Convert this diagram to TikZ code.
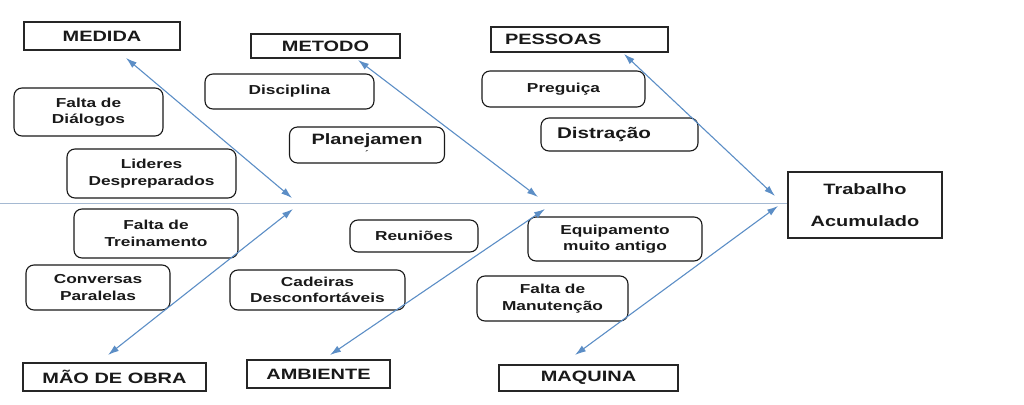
\documentclass[tikz,border=0pt]{standalone}
\usepackage{fontspec}
\setmainfont{Liberation Sans}[FakeStretch=1.33]
\usetikzlibrary{arrows.meta}
\definecolor{arrowblue}{RGB}{92,142,198}
\definecolor{spineblue}{RGB}{165,185,210}

\begin{document}
\begin{tikzpicture}[x=1pt,y=-1pt,
    cat/.style={draw=black!85, line width=1.2pt, inner sep=2pt, text=black!90,
        font=\bfseries\fontsize{15}{17}\selectfont},
    cause/.style={draw=black!90, line width=1.1pt, rounded corners=8pt, align=center,
        inner sep=2pt, text=black!90, font=\bfseries\fontsize{13}{16.5}\selectfont},
    spoke/.style={draw=arrowblue, line width=1.1pt,
        {Latex[length=11pt,width=7pt]}-{Latex[length=11pt,width=7pt]}}]
    \useasboundingbox (0,0) rectangle (1024,404);
    % 绘制效果
    \node[cat, minimum width=154pt, minimum height=66pt, align=center,
        font=\bfseries\fontsize{15}{32}\selectfont] (trabalho) at (865,205) {Trabalho\\Acumulado};
    \coordinate (spine) at (0,203);
    \draw[spineblue, line width=0.9pt] (spine) -- (spine -| trabalho.west);
    % 类别
    \node[cat, minimum width=156pt, minimum height=28pt] (medida) at (102,36) {MEDIDA};
    \node[cat, minimum width=149pt, minimum height=24pt] (metodo) at (325.5,46) {METODO};
    \node[cat, minimum height=25pt, inner xsep=14pt, text width=149pt, align=left] (pessoas) at (579.5,39.5) {PESSOAS};
    \node[cat, minimum width=183pt, minimum height=28pt] (maoobra) at (114.5,377) {MÃO DE OBRA};
    \node[cat, minimum width=143pt, minimum height=28pt] (ambiente) at (318.5,374) {AMBIENTE};
    \node[cat, minimum width=179pt, minimum height=26pt] (maquina) at (588.5,378) {MAQUINA};
    % 原因
    \node[cause, minimum width=149pt, minimum height=48pt] (dialogos) at (88.5,112) {Falta de\\Diálogos};
    \node[cause, minimum width=169pt, minimum height=49pt] (lideres) at (151.5,173.5) {Lideres\\Despreparados};
    \node[cause, minimum width=169pt, minimum height=35pt] (disciplina) at (289.5,91.5) {Disciplina};
    \node[cause, minimum width=155pt, minimum height=36pt, font=\bfseries\fontsize{15}{12}\selectfont] (planejamen) at (367,145) {Planejamen\\{\fontsize{8}{8}\selectfont ´}};
    \node[cause, minimum width=163pt, minimum height=36pt] (preguica) at (563.5,89) {Preguiça};
    \node[cause, minimum height=33pt, inner xsep=16pt, text width=125pt, align=left,
        font=\bfseries\fontsize{15.5}{17}\selectfont] (distracao) at (619.5,134.5) {Distração};
    \node[cause, minimum width=164pt, minimum height=49pt] (treinamento) at (156,233.5) {Falta de\\Treinamento};
    \node[cause, minimum width=144pt, minimum height=45pt] (conversas) at (98,287.5) {Conversas\\Paralelas};
    \node[cause, minimum width=128pt, minimum height=32pt] (reunioes) at (414,236) {Reuniões};
    \node[cause, minimum width=175pt, minimum height=40pt] (cadeiras) at (317.5,290) {Cadeiras\\Desconfortáveis};
    \node[cause, minimum width=174pt, minimum height=44pt] (equipamento) at (615,239) {Equipamento\\muito antigo};
    \node[cause, minimum width=151pt, minimum height=45pt] (manutencao) at (552.5,298.5) {Falta de\\Manutenção};
    % 箭头
    \coordinate (medida tip) at (126,58);   \coordinate (medida end) at (292,198);
    \coordinate (metodo tip) at (358,60);   \coordinate (metodo end) at (538,197);
    \coordinate (pessoas tip) at (624,54);  \coordinate (pessoas end) at (775,196);
    \coordinate (maoobra tip) at (108,355); \coordinate (maoobra end) at (293,209);
    \coordinate (ambiente tip) at (330,355); \coordinate (ambiente end) at (545,209);
    \coordinate (maquina tip) at (575,355); \coordinate (maquina end) at (778,206);
    \foreach \c in {medida,metodo,pessoas,maoobra,ambiente,maquina}
        \draw[spoke] (\c\space tip) -- (\c\space end);
\end{tikzpicture}
\end{document}
